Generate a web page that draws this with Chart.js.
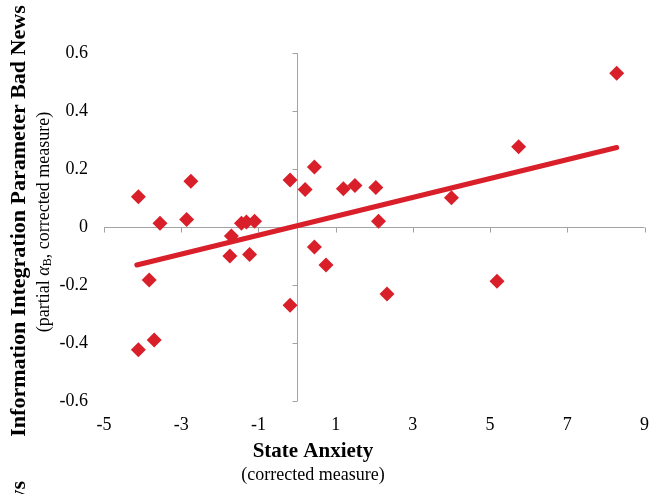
<!DOCTYPE html>
<html>
<head>
<meta charset="utf-8">
<script src="https://cdn.jsdelivr.net/npm/chart.js@4"></script>
<style>
  html, body { margin: 0; padding: 0; background: #fff; }
  #wrap { width: 652px; height: 494px; }
</style>
</head>
<body>
<div id="wrap"><canvas id="chart" width="652" height="494"></canvas></div>
<script>
// state anxiety (corrected) vs partial alpha_B (corrected)
const anxiety = [-4.11, -4.11, -3.83, -3.70, -3.55, -2.86, -2.75, -1.74, -1.70, -1.44,
  -1.31, -1.10, -1.23, -0.18, -0.18, 0.21, 0.45, 0.45, 0.75, 1.20,
  1.50, 2.04, 2.11, 2.33, 4.00, 5.18, 5.74, 8.28];
const alphaB = [0.104, -0.423, -0.183, -0.390, 0.013, 0.026, 0.158, -0.100, -0.031, 0.013,
  0.017, 0.020, -0.095, 0.162, -0.270, 0.129, 0.207, -0.069, -0.131, 0.132,
  0.143, 0.136, 0.020, -0.231, 0.101, -0.187, 0.277, 0.530];
const trendX = [-4.15, 8.28];
const trendY = [-0.131, 0.274];
const xTicks = [-5, -3, -1, 1, 3, 5, 7, 9];
const yTicks = [-0.6, -0.4, -0.2, 0, 0.2, 0.4, 0.6];

const red = '#d9202a';
const axisGrey = '#a3a3a3';
const serif = '"Liberation Serif", "Times New Roman", serif';

// axes cross at zero, like the original spreadsheet chart
const zeroAxes = {
  id: 'zeroAxes',
  beforeDatasetsDraw(chart) {
    const { ctx } = chart;
    const xs = chart.scales.x, ys = chart.scales.y;
    const x0 = Math.round(xs.getPixelForValue(0)) + 0.5;
    const y0 = Math.round(ys.getPixelForValue(0)) + 0.5;
    ctx.save();
    ctx.strokeStyle = axisGrey;
    ctx.lineWidth = 1;
    ctx.beginPath();
    ctx.moveTo(x0, ys.getPixelForValue(yTicks[0]));
    ctx.lineTo(x0, ys.getPixelForValue(yTicks[yTicks.length - 1]));
    yTicks.forEach(v => {
      const py = Math.round(ys.getPixelForValue(v)) + 0.5;
      ctx.moveTo(x0 - 5, py);
      ctx.lineTo(x0, py);
    });
    ctx.moveTo(xs.getPixelForValue(xTicks[0]), y0);
    ctx.lineTo(xs.getPixelForValue(xTicks[xTicks.length - 1]), y0);
    xTicks.forEach(v => {
      const px = Math.round(xs.getPixelForValue(v)) + 0.5;
      ctx.moveTo(px, y0);
      ctx.lineTo(px, y0 + 5);
    });
    ctx.stroke();
    ctx.restore();
  }
};

const titles = {
  id: 'titles',
  afterDraw(chart) {
    const c = chart.ctx;
    c.save();
    c.fillStyle = '#000';
    c.textAlign = 'center';
    c.textBaseline = 'middle';
    c.font = 'bold 21px ' + serif;
    c.fillText('State Anxiety', 313, 452);
    c.font = '18px ' + serif;
    c.fillText('(corrected measure)', 313, 475);

    // y title
    c.save();
    c.translate(19, 221);
    c.rotate(-Math.PI / 2);
    c.font = 'bold 22px ' + serif;
    c.fillText('Information Integration Parameter Bad News', 0, 0);
    c.restore();

    // y subtitle with subscript
    c.save();
    c.translate(44, 222);
    c.rotate(-Math.PI / 2);
    c.textAlign = 'left';
    const parts = [
      { t: '(partial ', f: '18px ' + serif, dy: 0 },
      { t: 'α', f: 'italic 18px ' + serif, dy: 0 },
      { t: 'B', f: '12px ' + serif, dy: 4 },
      { t: ', corrected measure)', f: '18px ' + serif, dy: 0 }
    ];
    let total = 0;
    parts.forEach(p => { c.font = p.f; p.w = c.measureText(p.t).width; total += p.w; });
    let x = -total / 2;
    parts.forEach(p => { c.font = p.f; c.fillText(p.t, x, p.dy); x += p.w; });
    c.restore();

    // leftover of the next figure's title at the bottom edge
    c.save();
    c.translate(19, 481);
    c.rotate(-Math.PI / 2);
    c.textAlign = 'right';
    c.font = 'bold 22px ' + serif;
    c.fillText('Bad News', 0, 0);
    c.restore();

    c.restore();
  }
};

const ctx = document.getElementById('chart').getContext('2d');
new Chart(ctx, {
  type: 'scatter',
  data: {
    datasets: [
      {
        type: 'line',
        label: 'Trend',
        data: trendX.map((x, i) => ({ x, y: trendY[i] })),
        borderColor: red,
        borderWidth: 5,
        borderCapStyle: 'round',
        pointRadius: 0,
        fill: false
      },
      {
        label: 'Participants',
        data: anxiety.map((x, i) => ({ x, y: alphaB[i] })),
        pointStyle: 'rectRot',
        pointRadius: 7.5,
        pointHoverRadius: 7.5,
        backgroundColor: red,
        borderColor: red,
        borderWidth: 0
      }
    ]
  },
  options: {
    responsive: false,
    animation: false,
    layout: { padding: { left: 0, top: 53, right: 5, bottom: 0 } },
    plugins: { legend: { display: false }, tooltip: { enabled: false } },
    scales: {
      x: {
        type: 'linear',
        min: -5,
        max: 9,
        afterBuildTicks: s => { s.ticks = xTicks.map(v => ({ value: v })); },
        afterFit: s => { s.height = 93; s.paddingLeft = 0; s.paddingRight = 0; },
        grid: { display: false, drawTicks: false },
        border: { display: false },
        ticks: { color: '#000', font: { family: serif, size: 18 }, padding: 13, maxRotation: 0 }
      },
      y: {
        type: 'linear',
        min: -0.6,
        max: 0.6,
        afterBuildTicks: s => { s.ticks = yTicks.map(v => ({ value: v })); },
        afterFit: s => { s.width = 104; },
        grid: { display: false, drawTicks: false },
        border: { display: false },
        ticks: {
          color: '#000',
          font: { family: serif, size: 18 },
          padding: 16,
          callback: v => (Math.abs(v) < 1e-9 ? '0' : (Math.round(v * 10) / 10).toFixed(1))
        }
      }
    }
  },
  plugins: [zeroAxes, titles]
});
</script>
</body>
</html>
